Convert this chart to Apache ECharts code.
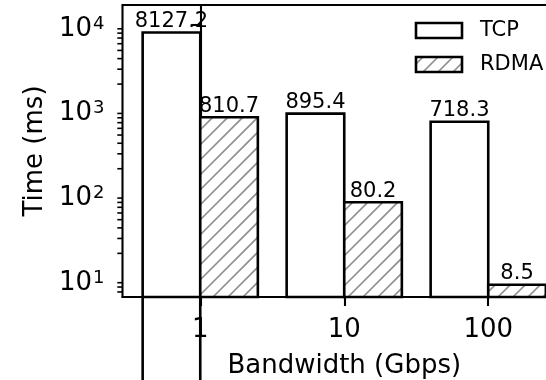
<!DOCTYPE html>
<html>
<head>
<meta charset="utf-8">
<script src="https://cdn.jsdelivr.net/npm/echarts@6/dist/echarts.min.js"></script>
<style>
  html, body { margin: 0; padding: 0; background: #fff; }
  #chart { width: 546px; height: 380px; }
</style>
</head>
<body>
<div id="chart"></div>
<script>
// ---- data ----
const categories = ['1', '10', '100'];
const tcpValues = [8127.2, 895.4, 718.3];
const rdmaValues = [810.7, 80.2, 8.5];
const seriesNames = ['TCP', 'RDMA'];
const xAxisName = 'Bandwidth (Gbps)';
const yAxisName = 'Time (ms)';

// ---- layout / style constants ----
const FONT = 'DejaVu Sans';
const BAR_W = 0.4;
const X_MIN = -0.54, X_MAX = 2.54;
const Y_MIN = 6.1, Y_MAX = 17200;
const HATCH_STEP = 15;
const EDGE_W = 2.6;

const minorTickValues = [];
for (let e = 0; e <= 4; e++) {
  for (let m = 2; m <= 9; m++) {
    const v = m * Math.pow(10, e);
    if (v > Y_MIN && v < Y_MAX) minorTickValues.push(v);
  }
}

function hatchSegments(x0, y0, x1, y1, s) {
  const segs = [];
  const cStart = Math.ceil((x0 + y0) / s) * s;
  for (let c = cStart; c <= x1 + y1; c += s) {
    const xa = Math.max(x0, c - y1);
    const xb = Math.min(x1, c - y0);
    if (xb > xa) segs.push({ x1: xa, y1: c - xa, x2: xb, y2: c - xb });
  }
  return segs;
}

function barBox(x, y, w, h, hatched) {
  const children = [];
  children.push({ type: 'rect', shape: { x, y, width: w, height: h }, style: { fill: '#fff' } });
  if (hatched) {
    hatchSegments(x, y, x + w, y + h, HATCH_STEP).forEach(s => {
      children.push({ type: 'line', shape: s, style: { stroke: '#8f8f8f', lineWidth: 1.7 } });
    });
  }
  children.push({ type: 'rect', shape: { x, y, width: w, height: h }, style: { fill: 'none', stroke: '#000', lineWidth: EDGE_W } });
  return children;
}

function makeBarRenderer(side, hatched, overflowFirst) {
  return function (params, api) {
    const idx = api.value(0);
    const v = api.value(1);
    const xl = side < 0 ? idx - BAR_W : idx;
    const pTL = api.coord([xl, v]);
    const pTR = api.coord([xl + BAR_W, v]);
    const cs = params.coordSys;
    const yBottom = cs.y + cs.height;
    const x = pTL[0], w = pTR[0] - pTL[0], y = pTL[1], h = yBottom - y;
    const children = barBox(x, y, w, h, hatched);
    if (overflowFirst && params.dataIndex === 0) {
      const H = api.getHeight();
      children.push({ type: 'line', shape: { x1: x, y1: yBottom, x2: x, y2: H }, style: { stroke: '#000', lineWidth: EDGE_W } });
      children.push({ type: 'line', shape: { x1: x + w, y1: yBottom, x2: x + w, y2: H }, style: { stroke: '#000', lineWidth: EDGE_W } });
    }
    children.push({
      type: 'text',
      style: {
        text: v.toFixed(1), x: x + w / 2, y: y - 0.5,
        align: 'center', verticalAlign: 'bottom',
        font: '21px "' + FONT + '"', fill: '#000'
      }
    });
    return { type: 'group', children };
  };
}

function minorTickRenderer(params, api) {
  const children = [];
  minorTickValues.forEach(v => {
    const p = api.coord([X_MIN, v]);
    children.push({ type: 'line', shape: { x1: p[0] - 5.2, y1: p[1], x2: p[0], y2: p[1] }, style: { stroke: '#000', lineWidth: 1.6 } });
  });
  return { type: 'group', children };
}

// legend graphic
const legendGraphic = [];
function addLegendItem(name, x, y, hatched) {
  barBox(x, y, 46, 15, hatched).forEach(c => legendGraphic.push(c));
  legendGraphic.push({ type: 'text', style: { text: name, x: x + 64, y: y + 8, verticalAlign: 'middle', font: '21px "' + FONT + '"', fill: '#000' } });
}
addLegendItem(seriesNames[0], 416, 23, false);
addLegendItem(seriesNames[1], 416, 57, true);

const chart = echarts.init(document.getElementById('chart'), null, { renderer: 'canvas' });
chart.setOption({
  animation: false,
  backgroundColor: '#fff',
  textStyle: { fontFamily: FONT, color: '#000' },
  grid: {
    left: 122.5, top: 5, right: -20, bottom: 83,
    show: true, borderColor: '#000', borderWidth: 2.1,
    outerBoundsMode: 'none', containLabel: false
  },
  xAxis: {
    type: 'value', min: X_MIN, max: X_MAX,
    splitLine: { show: false },
    axisLine: { show: true, lineStyle: { color: '#000', width: 2.1 } },
    axisTick: { show: true, customValues: [0, 1, 2], length: 9, lineStyle: { color: '#000', width: 2.1 } },
    axisLabel: {
      customValues: [0, 1, 2], formatter: v => categories[Math.round(v)] ?? '',
      fontSize: 26, fontFamily: FONT, color: '#000', margin: 20
    },
    name: xAxisName, nameLocation: 'middle', nameGap: 56,
    nameTextStyle: { fontSize: 26, fontFamily: FONT, color: '#000' }
  },
  yAxis: {
    type: 'log', logBase: 10, min: Y_MIN, max: Y_MAX,
    splitLine: { show: false },
    axisLine: { show: true, lineStyle: { color: '#000', width: 2.1 } },
    axisTick: { show: true, length: 9, lineStyle: { color: '#000', width: 2.1 } },
    axisLabel: {
      margin: 18, showMinLabel: false, showMaxLabel: false,
      padding: [8, 0, 0, 0],
      formatter: function (value) {
        const e = Math.log10(value);
        if (Math.abs(e - Math.round(e)) > 1e-6) return '';
        return '{b|10}{s|' + Math.round(e) + '}';
      },
      rich: {
        b: { fontSize: 26, fontFamily: FONT, color: '#000', lineHeight: 28 },
        s: { fontSize: 18, fontFamily: FONT, color: '#000', verticalAlign: 'top', padding: [0, 0, 0, 1] }
      }
    },
    name: yAxisName, nameLocation: 'middle', nameGap: 74,
    nameTextStyle: { fontSize: 26, fontFamily: FONT, color: '#000' }
  },
  series: [
    {
      type: 'custom', name: seriesNames[0], clip: false,
      data: tcpValues.map((v, i) => [i, v]), encode: { x: 0, y: 1 },
      renderItem: makeBarRenderer(-1, false, true)
    },
    {
      type: 'custom', name: seriesNames[1], clip: false,
      data: rdmaValues.map((v, i) => [i, v]), encode: { x: 0, y: 1 },
      renderItem: makeBarRenderer(1, true, false)
    },
    {
      type: 'custom', name: 'minorTicks', clip: false, silent: true,
      data: [[0, 10]], encode: { x: 0, y: 1 },
      renderItem: minorTickRenderer
    }
  ],
  graphic: legendGraphic
});
</script>
</body>
</html>
